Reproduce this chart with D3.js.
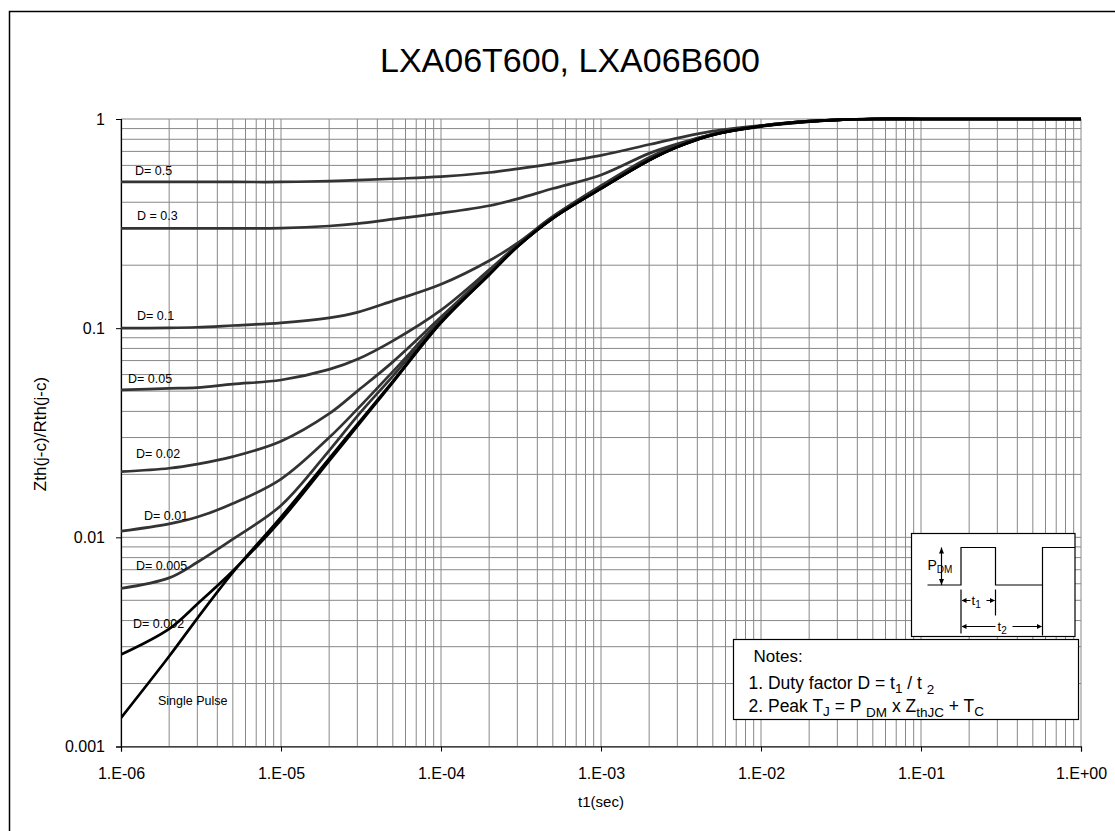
<!DOCTYPE html>
<html lang="en">
<head>
<meta charset="utf-8">
<title>LXA06T600, LXA06B600</title>
<script src="https://d3js.org/d3.v7.min.js" charset="utf-8"></script>
<style>
  body { margin: 0; background: #fff; }
  text { font-family: "Liberation Sans", Arial, sans-serif; }
</style>
</head>
<body>
<script>

// pulse width t1 (sec), shared by every curve
var t1 = [1e-6, 2e-6, 3e-6, 5e-6, 1e-5, 2e-5, 3e-5, 5e-5, 1e-4, 2e-4, 3e-4, 5e-4,
          1e-3, 2e-3, 3e-3, 5e-3, 1e-2, 2e-2, 3e-2, 5e-2, 1e-1, 1];

// normalised Zth(j-c)/Rth(j-c)
var d05   = [0.50, 0.50, 0.50, 0.50, 0.50, 0.505, 0.51, 0.518, 0.53, 0.555, 0.578, 0.612, 0.67, 0.755, 0.81, 0.875, 0.93, 0.97, 0.99, 1, 1, 1];
var d03   = [0.30, 0.30, 0.30, 0.30, 0.301, 0.308, 0.316, 0.332, 0.355, 0.385, 0.415, 0.465, 0.54, 0.685, 0.76, 0.845, 0.92, 0.97, 0.99, 1, 1, 1];
var d01   = [0.100, 0.1003, 0.101, 0.103, 0.106, 0.112, 0.119, 0.135, 0.162, 0.21, 0.255, 0.342, 0.48, 0.655, 0.75, 0.848, 0.928, 0.976, 0.99, 1, 1, 1];
var d005  = [0.0507, 0.0515, 0.052, 0.054, 0.0565, 0.0635, 0.071, 0.087, 0.122, 0.19, 0.25, 0.34, 0.472, 0.642, 0.742, 0.845, 0.928, 0.976, 0.99, 1, 1, 1];
var d002  = [0.0206, 0.0214, 0.0224, 0.0243, 0.0288, 0.039, 0.05, 0.069, 0.113, 0.186, 0.249, 0.338, 0.469, 0.639, 0.739, 0.843, 0.927, 0.976, 0.99, 1, 1, 1];
var d001  = [0.0107, 0.0116, 0.0125, 0.0145, 0.019, 0.030, 0.041, 0.062, 0.11, 0.184, 0.247, 0.337, 0.467, 0.637, 0.737, 0.842, 0.926, 0.976, 0.99, 1, 1, 1];
var d0005 = [0.0057, 0.0064, 0.0076, 0.0098, 0.0142, 0.026, 0.038, 0.059, 0.109, 0.182, 0.246, 0.336, 0.466, 0.636, 0.736, 0.841, 0.925, 0.975, 0.99, 1, 1, 1];
var d0002 = [0.00275, 0.00365, 0.0048, 0.0069, 0.0121, 0.0232, 0.034, 0.055, 0.106, 0.18, 0.245, 0.335, 0.465, 0.635, 0.735, 0.84, 0.925, 0.975, 0.99, 1, 1, 1];
var single = [0.00137, 0.0027, 0.0041, 0.0068, 0.0125, 0.0238, 0.0347, 0.0557, 0.107, 0.18, 0.245, 0.335, 0.465, 0.635, 0.735, 0.84, 0.925, 0.975, 0.99, 1, 1, 1];

var seriesNames = ["D= 0.5", "D = 0.3", "D= 0.1", "D= 0.05", "D= 0.02", "D= 0.01", "D= 0.005", "D= 0.002", "Single Pulse"];
var seriesValues = [d05, d03, d01, d005, d002, d001, d0005, d0002, single];

var xTicks = [1e-6, 1e-5, 1e-4, 1e-3, 1e-2, 1e-1, 1];
var xTickLabels = ["1.E-06", "1.E-05", "1.E-04", "1.E-03", "1.E-02", "1.E-01", "1.E+00"];
var yTicks = [0.001, 0.01, 0.1, 1];
var yTickLabels = ["0.001", "0.01", "0.1", "1"];

// label placement: [dx from plot left, dy from the curve's first point]
var labelOffset = [[14, -7], [16, -8], [16, -8], [7, -7], [15, -14], [23, -11], [15, -18], [12, -27], [37, -13]];

var W = 1115, H = 831;
var plotL = 121, plotR = 1081, plotT = 119, plotB = 746.5;

var svg = d3.select("body").append("svg").attr("width", W).attr("height", H);

svg.append("defs").append("clipPath").attr("id", "plotclip")
    .append("rect").attr("x", plotL).attr("y", plotT - 3).attr("width", plotR - plotL).attr("height", plotB - plotT + 3);

// outer frame (right and bottom edges fall outside the picture)
svg.append("rect").attr("x", 9.5).attr("y", 11.5).attr("width", W).attr("height", H)
    .attr("fill", "none").attr("stroke", "#000").attr("stroke-width", 1.5);

var x = d3.scaleLog().domain([1e-6, 1]).range([plotL, plotR]);
var y = d3.scaleLog().domain([0.001, 1]).range([plotB, plotT]);

// log grid, every 1..9 of each decade
var xGrid = [], yGrid = [];
for (var e = -6; e < 0; e++) for (var k = 1; k < 10; k++) xGrid.push(k * Math.pow(10, e));
xGrid.push(1);
for (var e2 = -3; e2 < 0; e2++) for (var k2 = 1; k2 < 10; k2++) yGrid.push(k2 * Math.pow(10, e2));
yGrid.push(1);

var grid = svg.append("g").attr("stroke", "#888").attr("stroke-width", 1);
grid.selectAll(".vx").data(xGrid).enter().append("line")
    .attr("x1", d => x(d)).attr("x2", d => x(d)).attr("y1", plotT).attr("y2", plotB);
grid.selectAll(".hy").data(yGrid).enter().append("line")
    .attr("y1", d => y(d)).attr("y2", d => y(d)).attr("x1", plotL).attr("x2", plotR);

// axes
var xAxis = d3.axisBottom(x).tickValues(xTicks).tickSize(5).tickPadding(16)
    .tickFormat((d, i) => xTickLabels[i]);
var yAxis = d3.axisLeft(y).tickValues(yTicks).tickSize(5).tickPadding(11)
    .tickFormat((d, i) => yTickLabels[i]);

var gx = svg.append("g").attr("transform", "translate(0," + plotB + ")").call(xAxis);
var gy = svg.append("g").attr("transform", "translate(" + plotL + ",0)").call(yAxis);
[gx, gy].forEach(function (g) {
    g.select(".domain").attr("stroke", "#000").attr("stroke-width", 1.2);
    g.selectAll(".tick line").attr("stroke", "#000");
    g.selectAll(".tick text").attr("font-size", 16).attr("fill", "#000")
        .style("font-family", "'Liberation Sans', Arial, sans-serif");
});

// curves
var line = d3.line()
    .x(function (d) { return x(d[0]); })
    .y(function (d) { return y(d[1]); })
    .curve(d3.curveCatmullRom.alpha(0.5));

var curves = svg.append("g").attr("clip-path", "url(#plotclip)");
seriesValues.forEach(function (vals, i) {
    var dark = i >= 7;
    curves.append("path")
        .datum(t1.map(function (t, j) { return [t, vals[j]]; }))
        .attr("d", line)
        .attr("fill", "none")
        .attr("stroke", dark ? "#000" : "#333")
        .attr("stroke-width", 2.7)
        .attr("stroke-linejoin", "round");
});

// curve labels
seriesNames.forEach(function (name, i) {
    svg.append("text")
        .attr("x", plotL + labelOffset[i][0])
        .attr("y", y(seriesValues[i][0]) + labelOffset[i][1])
        .attr("font-size", 12.5)
        .attr("fill", "#000")
        .text(name);
});

// title and axis titles
svg.append("text").attr("x", 570).attr("y", 72).attr("text-anchor", "middle")
    .attr("font-size", 34).text("LXA06T600, LXA06B600");
svg.append("text").attr("x", (plotL + plotR) / 2).attr("y", 807).attr("text-anchor", "middle")
    .attr("font-size", 15).text("t1(sec)");
svg.append("text").attr("transform", "translate(46,434) rotate(-90)").attr("text-anchor", "middle")
    .attr("font-size", 17).text("Zth(j-c)/Rth(j-c)");

// pulse sketch
var inset = svg.append("g").attr("transform", "translate(911.5,533.5)");
inset.append("rect").attr("width", 163.5).attr("height", 103).attr("fill", "#fff")
    .attr("stroke", "#000").attr("stroke-width", 1.2);
var ink = inset.append("g").attr("fill", "none").attr("stroke", "#000").attr("stroke-width", 1.2);
ink.append("path").attr("d", "M16,51.5 H49.5 V14 H84 V51.5 H131 V14 H163.5");
ink.append("path").attr("d", "M49.5,56 V100 M84,56 V82 M131,51.5 V102");
ink.append("path").attr("d", "M30,14 V51.5");
ink.append("path").attr("d", "M51,67 H59 M75,67 H83 M51,93 H84 M101,93 H130");
var heads = inset.append("g").attr("fill", "#000");
heads.append("path").attr("d", "M30,14 l-2.5,6 h5 z M30,51.5 l-2.5,-6 h5 z");
heads.append("path").attr("d", "M50,67 l5,-2.5 v5 z M83.5,67 l-5,-2.5 v5 z");
heads.append("path").attr("d", "M50,93 l5,-2.5 v5 z M130.5,93 l-5,-2.5 v5 z");
var pt = inset.append("text").attr("x", 16).attr("y", 36).attr("font-size", 14).attr("fill", "#000");
pt.append("tspan").text("P");
pt.append("tspan").attr("dy", 3).attr("font-size", 10).text("DM");
var t1t = inset.append("text").attr("x", 60).attr("y", 71).attr("font-size", 13);
t1t.append("tspan").text("t");
t1t.append("tspan").attr("dy", 3).attr("font-size", 10).text("1");
var t2t = inset.append("text").attr("x", 86).attr("y", 97).attr("font-size", 13);
t2t.append("tspan").text("t");
t2t.append("tspan").attr("dy", 3).attr("font-size", 10).text("2");

// notes box
var notes = svg.append("g").attr("transform", "translate(733.5,639.5)");
notes.append("rect").attr("width", 345).attr("height", 80).attr("fill", "#fff")
    .attr("stroke", "#000").attr("stroke-width", 1.2);
notes.append("text").attr("x", 20).attr("y", 22).attr("font-size", 17).text("Notes:");
var n1 = notes.append("text").attr("x", 15).attr("y", 49).attr("font-size", 17.5);
n1.append("tspan").text("1. Duty factor D = t");
n1.append("tspan").attr("dy", 4).attr("font-size", 13.5).text("1");
n1.append("tspan").attr("dy", -4).text(" / t ");
n1.append("tspan").attr("dy", 5).attr("font-size", 13.5).text("2");
var n2 = notes.append("text").attr("x", 15).attr("y", 72).attr("font-size", 17.5);
n2.append("tspan").text("2. Peak T");
n2.append("tspan").attr("dy", 4).attr("font-size", 13.5).text("J");
n2.append("tspan").attr("dy", -4).text(" = P ");
n2.append("tspan").attr("dy", 5).attr("font-size", 13.5).text("DM");
n2.append("tspan").attr("dy", -5).text(" x  Z");
n2.append("tspan").attr("dy", 5).attr("font-size", 13.5).text("thJC");
n2.append("tspan").attr("dy", -5).text("  + T");
n2.append("tspan").attr("dy", 4).attr("font-size", 13.5).text("C");

</script>
</body>
</html>
